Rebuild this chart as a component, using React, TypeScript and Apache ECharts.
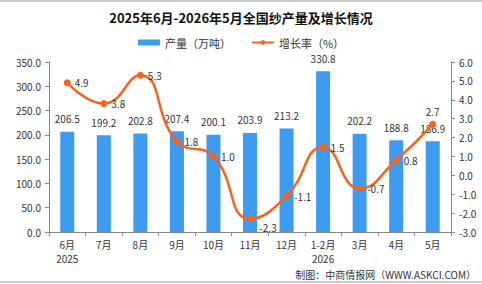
import React, { useEffect, useRef } from "react";
import * as echarts from "echarts";

const categories = ["6月\n2025", "7月", "8月", "9月", "10月", "11月", "12月", "1-2月\n2026", "3月", "4月", "5月"];
const production = [206.5, 199.2, 202.8, 207.4, 200.1, 203.9, 213.2, 330.8, 202.2, 188.8, 186.9];
const growth = [4.9, 3.8, 5.3, 1.8, 1.0, -2.3, -1.1, 1.5, -0.7, 0.8, 2.7];
const titleText = "2025年6月-2026年5月全国纱产量及增长情况";
const sourceText = "制图：中商情报网（WWW.ASKCI.COM）";

export default function App() {
  const ref = useRef<HTMLDivElement>(null);
  useEffect(() => {
    if (!ref.current) return;
    const chart = echarts.init(ref.current, undefined, { renderer: "svg" });
    const font = "'Noto Sans CJK SC', sans-serif";
    chart.setOption({
      animation: false,
      backgroundColor: "#fff",
      textStyle: { fontFamily: font },
      title: {
        text: titleText,
        left: "center",
        top: 6,
        textStyle: { fontSize: 13, fontWeight: "bold", color: "#111", fontFamily: font },
      },
      legend: {
        top: 32,
        left: "center",
        itemWidth: 22,
        itemHeight: 6,
        itemGap: 20,
        textStyle: { fontSize: 11, color: "#333" },
        data: [
          { name: "产量（万吨）", icon: "rect" },
          { name: "增长率（%）" },
        ],
      },
      grid: { left: 49, right: 31, top: 62, bottom: 52 },
      xAxis: {
        type: "category",
        data: categories,
        axisLine: { lineStyle: { color: "#888" } },
        axisTick: { show: true, length: 4, lineStyle: { color: "#888" } },
        axisLabel: { color: "#333", fontSize: 10, interval: 0, margin: 5, lineHeight: 14 },
      },
      yAxis: [
        {
          type: "value",
          min: 0,
          max: 350,
          interval: 50,
          splitLine: { show: false },
          axisLine: { show: true, lineStyle: { color: "#888" } },
          axisTick: { show: true, length: 4, lineStyle: { color: "#888" } },
          axisLabel: { color: "#333", fontSize: 10, formatter: (v: number) => v.toFixed(1) },
        },
        {
          type: "value",
          min: -3,
          max: 6,
          interval: 1,
          splitLine: { show: false },
          axisLine: { show: true, lineStyle: { color: "#888" } },
          axisTick: { show: true, length: 4, lineStyle: { color: "#888" } },
          axisLabel: { color: "#333", fontSize: 10, formatter: (v: number) => v.toFixed(1) },
        },
      ],
      series: [
        {
          name: "产量（万吨）",
          type: "bar",
          data: production,
          barWidth: 14,
          itemStyle: { color: "#3D9BF0" },
          label: {
            show: true,
            position: "top",
            distance: 8,
            color: "#333",
            fontSize: 10,
            formatter: (p: any) => p.value.toFixed(1),
          },
        },
        {
          name: "增长率（%）",
          type: "line",
          yAxisIndex: 1,
          smooth: true,
          data: growth.map((v, i) => {
            if (i === 5) return { value: v, label: { position: "bottom", offset: [18, -4] } };
            if (i === 10) return { value: v, label: { position: "top" } };
            return v;
          }),
          symbol: "circle",
          symbolSize: 7,
          lineStyle: { width: 2.5, color: "#F5631E" },
          itemStyle: { color: "#F5631E" },
          label: {
            show: true,
            position: "right",
            distance: 4,
            color: "#333",
            fontSize: 10,
            formatter: (p: any) => p.value.toFixed(1),
          },
          z: 5,
        },
      ],
      graphic: [
        {
          type: "text",
          right: 6,
          top: 269,
          style: { text: sourceText, fontSize: 10, fill: "#333", fontFamily: font },
        },
        {
          type: "line",
          shape: { x1: 0, y1: 1, x2: 482, y2: 1 },
          style: { stroke: "#999", lineWidth: 1 },
        },
        {
          type: "line",
          shape: { x1: 0, y1: 282, x2: 482, y2: 282 },
          style: { stroke: "#999", lineWidth: 1 },
        },
      ],
    });
    return () => chart.dispose();
  }, []);
  return <div ref={ref} style={{ width: 482, height: 284, position: "absolute", left: 0, top: 0 }} />;
}
